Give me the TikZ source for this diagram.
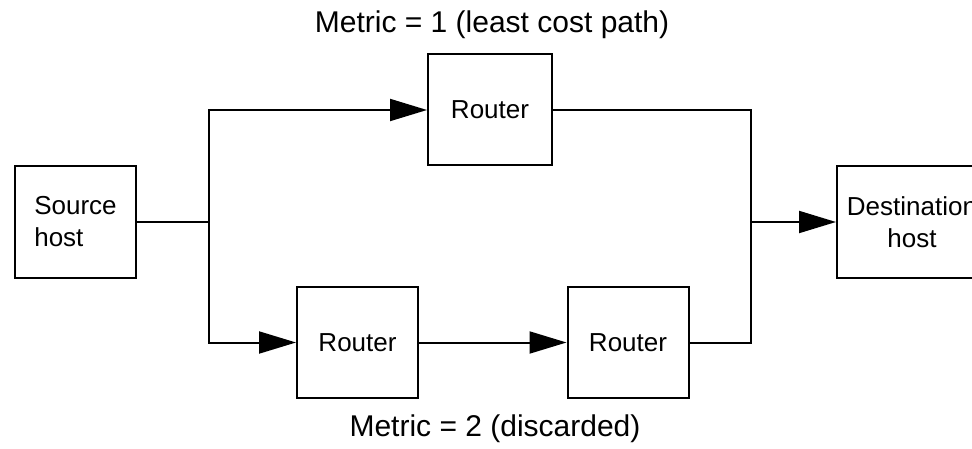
\documentclass[tikz,border=0pt]{standalone}
\usepackage{fontspec}
\setmainfont{Liberation Sans}
\usetikzlibrary{arrows.meta}

\begin{document}
\begin{tikzpicture}[x=1pt, y=-1pt, line width=2pt,
  box/.style={draw, minimum width=121pt, minimum height=111pt, inner sep=0pt,
    font=\fontsize{26}{32}\selectfont},
  metric/.style={font=\fontsize{30}{34}\selectfont},
  flow/.style={-{Triangle[length=37pt,width=22pt]}}]
  \useasboundingbox (0,0) rectangle (972,449);
  \clip (0,0) rectangle (972,449);
  % hosts
  \node[box, align=left] (src) at (75.5,222) {Source\\host};
  \node[box, align=center, minimum width=150pt] (dst) at (912,222) {Destination\\host};
  % routers
  \node[box, minimum width=124pt] (r1) at (490,110) {Router};
  \node[box] (r2) at (357.5,342.5) {Router};
  \node[box] (r3) at (628,342.5) {Router};
  % metric labels
  \node[metric] (m1) at (492,25) {Metric = 1 (least cost path)};
  \node[metric] (m2) at (495,429) {Metric = 2 (discarded)};
  % paths
  \coordinate (split) at (209,222);
  \coordinate (merge) at (751,222);
  \draw (src) -- (split);
  \draw[flow] (split) |- (r1.west);
  \draw[flow] (split) |- (r2.west);
  \draw[flow] (r2) -- (r3);
  \draw (r1.east) -| (merge);
  \draw (r3.east) -| (merge);
  \draw[flow] (merge) -- (dst);
\end{tikzpicture}
\end{document}
